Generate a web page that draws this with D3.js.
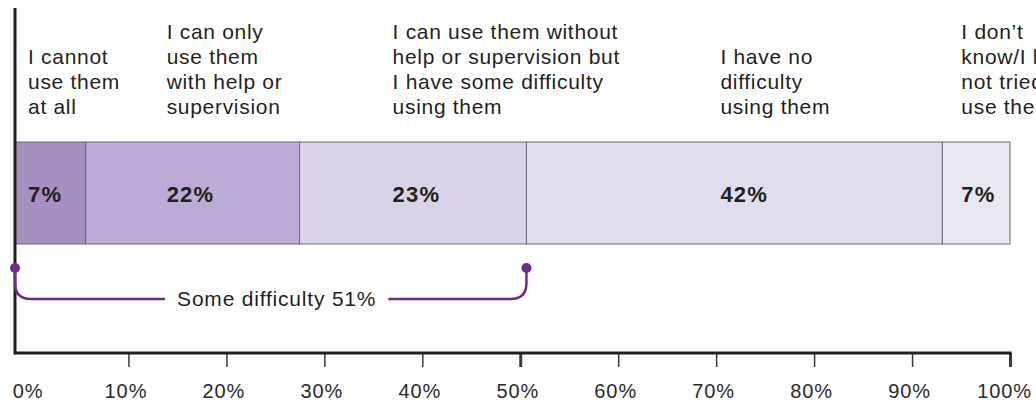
<!DOCTYPE html>
<html>
<head>
<meta charset="utf-8">
<script src="https://cdn.jsdelivr.net/npm/d3@7"></script>
<style>
  html, body { margin: 0; padding: 0; background: #fff; overflow: hidden; }
  svg { display: block; font-family: "Liberation Sans", Arial, Helvetica, sans-serif; }
</style>
</head>
<body>
<svg id="chart" width="1036" height="402"></svg>
<script>
// ---- data ----
const categories = [
  "I cannot use them at all",
  "I can only use them with help or supervision",
  "I can use them without help or supervision but I have some difficulty using them",
  "I have no difficulty using them",
  "I don’t know/I have not tried to use them"
];
const categoryLines = [
  ["I cannot", "use them", "at all"],
  ["I can only", "use them", "with help or", "supervision"],
  ["I can use them without", "help or supervision but", "I have some difficulty", "using them"],
  ["I have no", "difficulty", "using them"],
  ["I don’t", "know/I have", "not tried to", "use them"]
];
const values = [7.1, 21.5, 22.8, 41.8, 6.8];
const valueLabels = ["7%", "22%", "23%", "42%", "7%"];
const bracketLabel = "Some difficulty 51%";
const bracketCategories = [0, 1, 2];
const tickValues = [0, 10, 20, 30, 40, 50, 60, 70, 80, 90, 100];
const tickLabels = ["0%", "10%", "20%", "30%", "40%", "50%", "60%", "70%", "80%", "90%", "100%"];
const boldTicks = [50, 100];

// ---- layout / style ----
const colors = ["#a690c1", "#bcabd4", "#dad2e7", "#e2ddec", "#ebe7f2"];
const labelOffsetPx = [13, 81, 93, 194, 19];
const ink = "#231f20";
const purple = "#6a2d8f";

const svg = d3.select("#chart");
const xBar = d3.scaleLinear().domain([0, 100]).range([15, 1010]);
const xAxis = d3.scaleLinear().domain([0, 100]).range([30.5, 1010]);

const barTop = 142, barH = 102;
const axisY = 353;

let acc = 0;
const segs = values.map((v, i) => {
  const s = { i, start: acc, end: acc + v, v };
  acc += v;
  return s;
});

// bars
svg.append("g").selectAll("rect").data(segs).join("rect")
  .attr("x", d => xBar(d.start))
  .attr("y", barTop)
  .attr("width", d => xBar(d.end) - xBar(d.start))
  .attr("height", barH)
  .attr("fill", d => colors[d.i])
  .attr("stroke", "#6f6a72")
  .attr("stroke-width", 1);

// value labels
svg.append("g").selectAll("text").data(segs).join("text")
  .attr("x", d => xBar(d.start) + labelOffsetPx[d.i])
  .attr("y", barTop + barH / 2 + 8.5)
  .attr("font-size", 22)
  .attr("font-weight", "bold")
  .attr("letter-spacing", 1.2)
  .attr("fill", ink)
  .text(d => valueLabels[d.i]);

// category labels (bottom-aligned)
const lineH = 25, lastBaseline = 114;
const catG = svg.append("g");
segs.forEach(d => {
  const lines = categoryLines[d.i];
  const t = catG.append("text")
    .attr("font-size", 21)
    .attr("letter-spacing", 0.7)
    .attr("fill", ink);
  lines.forEach((ln, k) => {
    t.append("tspan")
      .attr("x", xBar(d.start) + labelOffsetPx[d.i])
      .attr("y", lastBaseline - (lines.length - 1 - k) * lineH)
      .text(ln);
  });
});

// vertical axis
svg.append("line")
  .attr("x1", xBar(0)).attr("x2", xBar(0))
  .attr("y1", 8).attr("y2", axisY + 1.5)
  .attr("stroke", ink).attr("stroke-width", 3);

// bottom axis
const ag = svg.append("g").attr("transform", `translate(0,${axisY})`)
  .call(d3.axisBottom(xAxis).tickValues(tickValues).tickSize(14)
    .tickFormat((d, i) => tickLabels[i]));
ag.select(".domain").remove();
ag.selectAll(".tick line")
  .attr("stroke", "#3a3a3a")
  .attr("stroke-width", d => boldTicks.includes(d) ? 3 : 1.5)
  .attr("display", d => d === 0 ? "none" : null);
ag.selectAll(".tick text")
  .attr("y", 45).attr("dy", 0).attr("dx", d => d === 100 ? -6 : -3)
  .attr("font-size", 20)
  .attr("letter-spacing", 0.9)
  .attr("font-family", "Liberation Sans, Arial, sans-serif")
  .attr("fill", "#2a2a2a");
ag.append("line")
  .attr("x1", xBar(0)).attr("x2", xAxis(100) + 1.5)
  .attr("y1", 0).attr("y2", 0)
  .attr("stroke", ink).attr("stroke-width", 3);

// bracket
const bx0 = xBar(segs[bracketCategories[0]].start);
const bx1 = xBar(segs[bracketCategories[bracketCategories.length - 1]].end);
const dotY = 268, lineY = 299, r = 16;
const bg = svg.append("g");
const bt = bg.append("text")
  .attr("x", (bx0 + bx1) / 2 + 6)
  .attr("y", lineY + 7)
  .attr("text-anchor", "middle")
  .attr("font-size", 21)
  .attr("letter-spacing", 0.8)
  .attr("fill", ink)
  .text(bracketLabel);
const bb = bt.node().getBBox();
const gap = 12;
bg.append("path")
  .attr("d", `M${bx0},${dotY} V${lineY - r} Q${bx0},${lineY} ${bx0 + r},${lineY} H${bb.x - gap}`)
  .attr("fill", "none").attr("stroke", purple).attr("stroke-width", 2.5);
bg.append("path")
  .attr("d", `M${bb.x + bb.width + gap},${lineY} H${bx1 - r} Q${bx1},${lineY} ${bx1},${lineY - r} V${dotY}`)
  .attr("fill", "none").attr("stroke", purple).attr("stroke-width", 2.5);
bg.selectAll("circle").data([bx0, bx1]).join("circle")
  .attr("cx", d => d).attr("cy", dotY).attr("r", 5).attr("fill", purple);
</script>
</body>
</html>
